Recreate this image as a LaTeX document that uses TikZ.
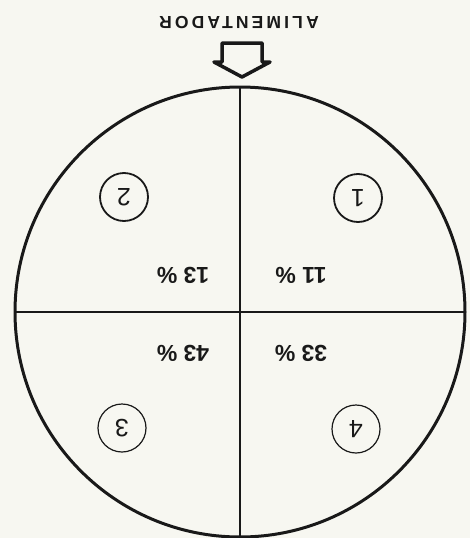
\documentclass[tikz,border=0pt]{standalone}
\usepackage{fontspec}
\setmainfont{Liberation Sans}
\definecolor{paper}{RGB}{247,247,241}
\definecolor{ink}{RGB}{25,25,25}
\begin{document}
\begin{tikzpicture}[x=1pt,y=-1pt,
  pct/.style={rotate=180, inner sep=0, text=ink, font=\fontsize{23}{23}\selectfont\bfseries},
  numc/.style={circle, draw=ink, minimum size=48pt, inner sep=0, rotate=180, text=ink, font=\fontsize{25}{25}\selectfont},
  ttl/.style={rotate=180, inner sep=0, text=ink, font=\fontsize{17.5}{17.5}\selectfont\bfseries\addfontfeature{LetterSpace=18}}]
\fill[paper] (0,0) rectangle (470,538);
\useasboundingbox (0,0) rectangle (470,538);
% outer circle
\node[circle, draw=ink, line width=3pt, minimum size=450pt, inner sep=0, outer sep=0] (c) at (240,312) {};
\draw[ink, line width=1.8pt] (c.north) -- (c.south);
\draw[ink, line width=1.8pt] (c.west) -- (c.east);
% feeder arrow and label
\node[ttl] (title) at (239,23) {ALIMENTADOR};
\coordinate (tip) at (242,77);
\draw[ink, line width=3.5pt, line join=round] (222,43) -- (262,43) -- (262,62) -- (270,62) -- (tip) -- (214,62) -- (222,62) -- cycle;
% sector numbers
\node[numc, line width=1.8pt] (n1) at (358,198) {1};
\node[numc, line width=1.8pt] (n2) at (124,197) {2};
\node[numc, line width=1.2pt] (n3) at (122,428) {3};
\node[numc, line width=1.2pt] (n4) at (356,429) {4};
% percentages
\node[pct] (p1) at (301,275) {11 \%};
\node[pct] (p2) at (183,275) {13 \%};
\node[pct] (p3) at (183,353) {43 \%};
\node[pct] (p4) at (301,353) {33 \%};
\end{tikzpicture}
\end{document}
